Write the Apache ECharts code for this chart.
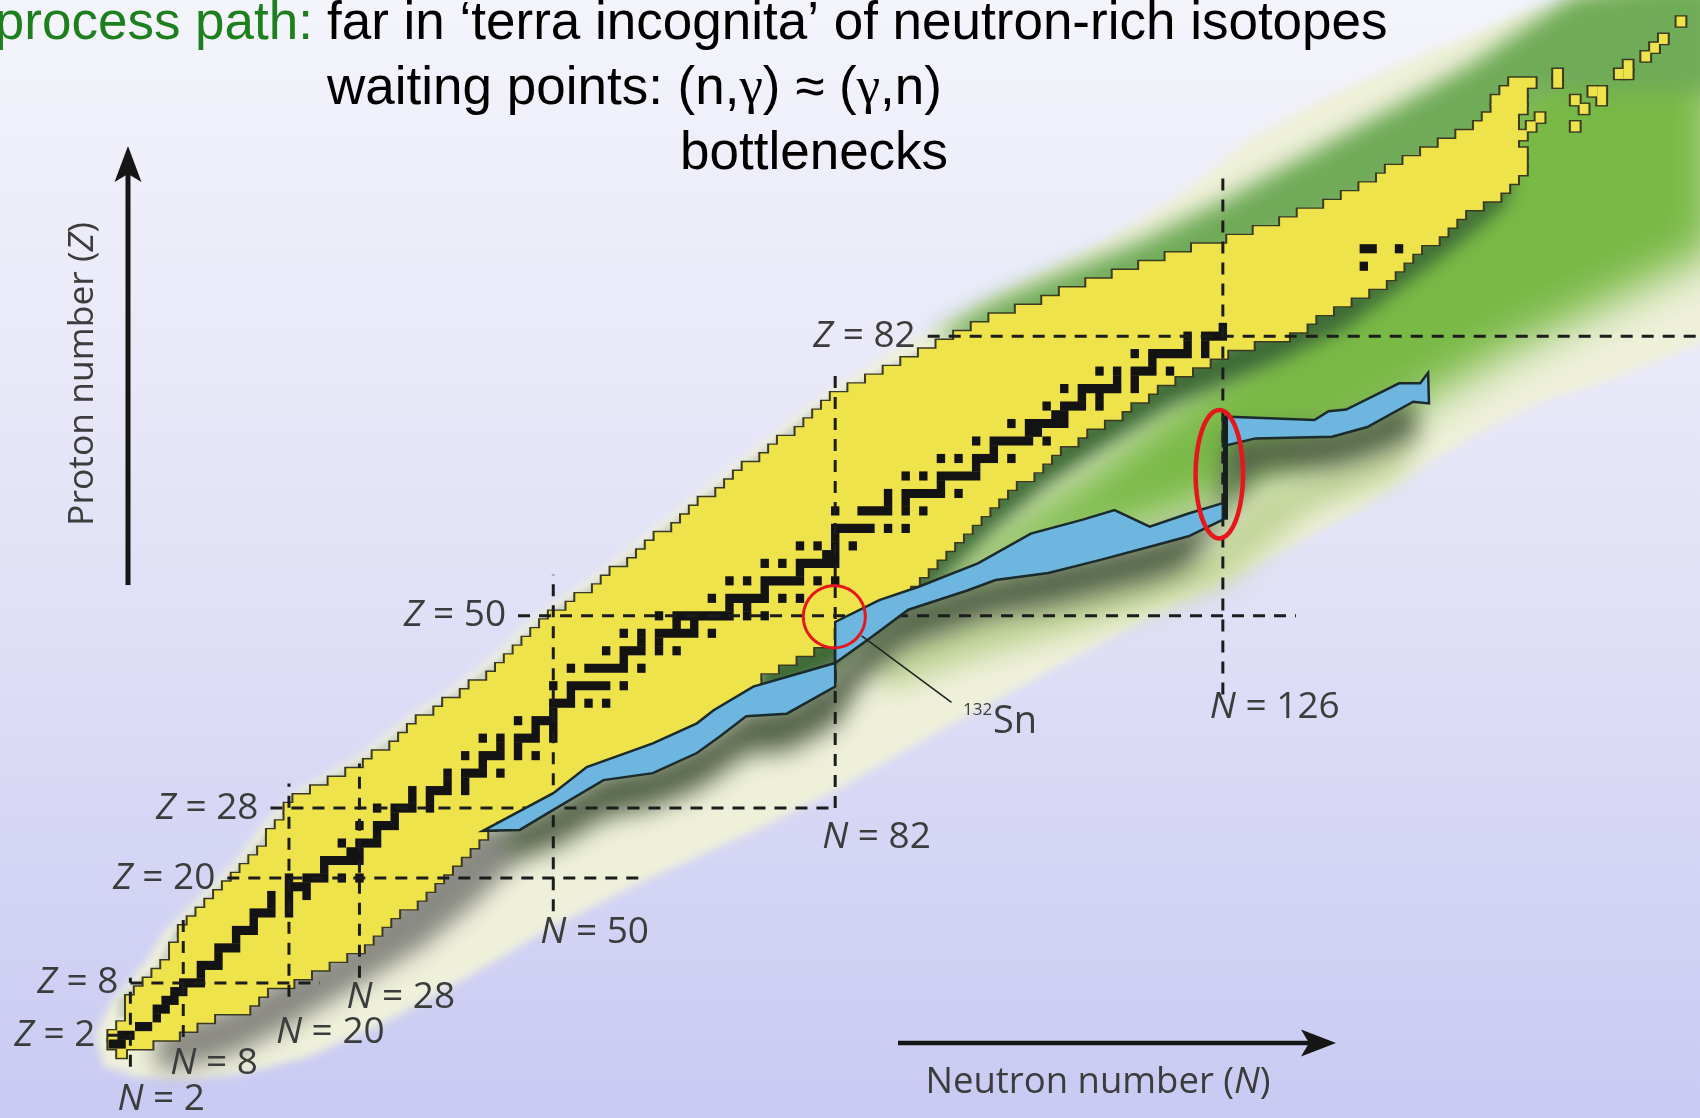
<!DOCTYPE html>
<html>
<head>
<meta charset="utf-8">
<title>r-process path on the chart of nuclides</title>
<script src="https://cdn.jsdelivr.net/npm/echarts@6/dist/echarts.min.js"></script>
<style>
html, body { margin: 0; padding: 0; background: #e6e6f8; }
#chart { width: 1700px; height: 1118px; }
</style>
</head>
<body>
<div id="chart"></div>
<script>
// ---------------------------------------------------------------------------
// Chart of nuclides data (N = neutron number on x, Z = proton number on y)
// ---------------------------------------------------------------------------

// element rows, index = proton number Z
const protonZ = Array.from({ length: 112 }, (_, z) => z);

// lightest known isotope of each element (neutron number)
const knownNmin = [
  1, 0, 0, 1, 2, 2, 2, 3, 4, 5,
  6, 7, 7, 8, 8, 9, 10, 11, 12, 13,
  14, 15, 16, 17, 18, 18, 19, 20, 20, 21,
  23, 25, 27, 29, 30, 32, 33, 34, 35, 37,
  38, 40, 41, 43, 44, 45, 46, 47, 48, 49,
  50, 52, 53, 55, 56, 57, 59, 60, 61, 62,
  64, 65, 66, 67, 69, 70, 71, 72, 74, 75,
  76, 78, 79, 80, 81, 82, 84, 86, 88, 90,
  92, 94, 96, 98, 100, 103, 106, 108, 111, 114,
  117, 120, 123, 127, 130, 133, 135, 138, 140, 142,
  144, 145, 147, 149, 151, 153, 155, 156, 157, 157,
  158, 159
];

// heaviest known isotope of each element (neutron number)
const knownNmax = [
  1, 4, 7, 9, 11, 15, 16, 17, 20, 22,
  24, 26, 28, 29, 30, 31, 32, 34, 35, 36,
  37, 38, 39, 40, 41, 42, 43, 45, 47, 49,
  51, 53, 54, 56, 58, 61, 64, 66, 68, 69,
  70, 72, 73, 73, 75, 77, 79, 82, 83, 84,
  85, 87, 89, 90, 91, 92, 93, 94, 95, 96,
  97, 98, 99, 100, 101, 102, 104, 105, 106, 107,
  109, 110, 112, 114, 115, 117, 118, 120, 122, 124,
  126, 129, 133, 135, 136, 138, 140, 142, 144, 145,
  146, 147, 148, 150, 151, 152, 153, 155, 157, 158,
  159, 160, 160, 160, 159, 159, 159, 159, 160, 160,
  160, 161
];

// isolated known superheavy nuclei [N, Z]
const superheavyCells = [
  [160, 105], [161, 106], [162, 107], [164, 111], [164, 112], [166, 106],
  [166, 109], [167, 108], [168, 110], [169, 110], [169, 109], [171, 112],
  [172, 112], [172, 113], [174, 114], [175, 115], [176, 116], [178, 118]
];

// stable (and very long-lived) isotopes: [Z, [N, ...]]
const stableIsotopes = [
  [1, [0, 1]], [2, [1, 2]], [3, [3, 4]], [4, [5]], [5, [5, 6]], [6, [6, 7]],
  [7, [7, 8]], [8, [8, 9, 10]], [9, [10]], [10, [10, 11, 12]], [11, [12]],
  [12, [12, 13, 14]], [13, [14]], [14, [14, 15, 16]], [15, [16]],
  [16, [16, 17, 18, 20]], [17, [18, 20]], [18, [18, 20, 22]], [19, [20, 21, 22]],
  [20, [20, 22, 23, 24, 26, 28]], [21, [24]], [22, [24, 25, 26, 27, 28]],
  [23, [27, 28]], [24, [26, 28, 29, 30]], [25, [30]], [26, [28, 30, 31, 32]],
  [27, [32]], [28, [30, 32, 33, 34, 36]], [29, [34, 36]], [30, [34, 36, 37, 38, 40]],
  [31, [38, 40]], [32, [38, 40, 41, 42, 44]], [33, [42]], [34, [40, 42, 43, 44, 46, 48]],
  [35, [44, 46]], [36, [42, 44, 46, 47, 48, 50]], [37, [48, 50]], [38, [46, 48, 49, 50]],
  [39, [50]], [40, [50, 51, 52, 54, 56]], [41, [52]], [42, [50, 52, 53, 54, 55, 56, 58]],
  [44, [52, 54, 55, 56, 57, 58, 60]], [45, [58]], [46, [56, 58, 59, 60, 62, 64]],
  [47, [60, 62]], [48, [58, 60, 62, 63, 64, 65, 66, 68]], [49, [64, 66]],
  [50, [62, 64, 65, 66, 67, 68, 69, 70, 72, 74]], [51, [70, 72]],
  [52, [68, 70, 71, 72, 73, 74, 76, 78]], [53, [74]], [54, [70, 72, 74, 75, 76, 77, 78, 80, 82]],
  [55, [78]], [56, [74, 76, 78, 79, 80, 81, 82]], [57, [81, 82]], [58, [78, 80, 82, 84]],
  [59, [82]], [60, [82, 83, 84, 85, 86, 88, 90]], [62, [82, 85, 86, 87, 88, 90, 92]],
  [63, [88, 90]], [64, [88, 90, 91, 92, 93, 94, 96]], [65, [94]],
  [66, [90, 92, 94, 95, 96, 97, 98]], [67, [98]], [68, [94, 96, 98, 99, 100, 102]],
  [69, [100]], [70, [98, 100, 101, 102, 103, 104, 106]], [71, [104, 105]],
  [72, [102, 104, 105, 106, 107, 108]], [73, [107, 108]], [74, [106, 108, 109, 110, 112]],
  [75, [110, 112]], [76, [108, 110, 111, 112, 113, 114, 116]], [77, [114, 116]],
  [78, [112, 114, 116, 117, 118, 120]], [79, [118]], [80, [116, 118, 119, 120, 121, 122, 124]],
  [81, [122, 124]], [82, [122, 124, 125, 126]], [83, [126]], [90, [142]], [92, [142, 143, 146]]
];

// r-process path outline, three stretches between the closed shells [N, Z]
const rPathLow = [
  [42, 25.4], [50, 29.7], [53.8, 32.7], [61.3, 35.4], [66.3, 37.7], [68.2, 39.2],
  [72.7, 41.9], [82, 44.6], [82, 41.9], [76.5, 38.8], [71.9, 38.5], [68.9, 36.2],
  [66.3, 34.3], [61.3, 32.0], [55.7, 31.2], [50, 27.8], [46.2, 25.5]
];
const rPathMid = [
  [82, 44.6], [82, 49.3], [87, 51.8], [91.4, 53.3], [98.2, 56], [104.2, 59.4],
  [110.1, 61], [113.7, 62.1], [117.7, 60.2], [122.1, 61.7], [126, 62.9], [126, 61],
  [122.1, 59.1], [117.7, 57.9], [112.1, 56.4], [106.2, 54.9], [100.2, 54.1],
  [97, 52.9], [90.3, 50.7], [85.9, 47.4]
];
const rPathHigh = [
  [126, 72.8], [136.4, 72.4], [138, 73.4], [140, 73.6], [146, 76.6], [148.4, 76.6],
  [149.3, 77.8], [149.4, 74.3], [147.6, 74.5], [142.4, 71.6], [138.4, 70.5],
  [129.7, 70.3], [126, 69.4]
];
const rPathLink = [[126.3, 61], [126.3, 72.8]];

// closed shells: [Z, N from, N to] and [N, Z from, Z to]
const magicZLines = [[2, -0.6, 2], [8, 2, 23.5], [20, 13, 60], [28, 17.9, 82], [50, 46, 134.3], [82, 92.5, 181]];
const magicNLines = [[2, -1.6, 8.6], [8, 1.8, 15.5], [20, 6.4, 30.8], [28, 8.6, 33.1], [50, 16.2, 54.7], [82, 28, 77.6], [126, 41, 100.6]];

// unexplored region beyond the known nuclei, and its shading [N, Z]
const hazeEnvelope = [
  [-2, 2], [0, 6], [3.5, 10], [6, 14], [10, 18], [14, 22], [17, 26], [21, 30], [28, 34],
  [33, 38], [39, 42], [44, 46], [48, 50], [54, 54], [59, 58], [64, 62], [69, 66],
  [74, 70], [79, 74], [85, 78], [89, 80.5], [100, 86.5], [112, 92.5], [121, 98],
  [129, 104.5], [138, 109.5], [147, 113.5], [159, 118.5], [168, 121], [182, 122.5], [182, 82],
  [170, 77], [162, 74.5], [156, 71.5], [150, 68], [142, 62.5], [130, 56], [118, 50],
  [106, 43.5], [95, 37.5], [82, 30], [73, 25.5], [62, 20.5], [50, 14.5], [40, 8.5],
  [30, 3], [22, -0.5], [14, -2.5], [8, -3], [3, -2.8], [-1, -1.5]
];
const hazeGreenBody = [
  [84, 49], [96, 57], [110, 66], [125, 78], [140, 92], [152, 104], [162, 114],
  [172, 120.5], [182, 122], [182, 92], [170, 86], [158, 80], [146, 73], [134, 67],
  [122, 62], [110, 58], [98, 54], [88, 50]
];
const hazeGreenBelow = [
  [86, 45.5], [97, 50.5], [112, 54], [124, 57.5], [130, 64], [140, 68], [148, 71],
  [146, 66], [136, 62], [126, 53.5], [112, 49], [98, 45], [88, 41.5]
];
const hazeFringe = [
  [0.5, 4], [0.5, 6], [5, 10], [7, 14], [11, 18], [15, 22], [18, 26],
  [22, 30], [29, 34], [34, 38], [40, 42], [45, 46], [49, 50], [55, 54],
  [60, 58], [65, 62], [70, 66], [75, 70], [80, 74], [87, 78], [91, 80],
  [96, 80], [90, 78], [83, 74], [77, 70], [72, 66], [67, 62], [63, 58], [58, 54],
  [52, 50], [48, 46], [43, 42], [37, 38], [32, 34], [25, 30], [21, 26], [18, 22],
  [14, 18], [10, 14], [8, 10], [4, 6], [3, 4]
];
const hazeGreenTop = [
  [93, 82], [100, 86], [107, 89], [116, 92.5], [126, 97.5], [136, 103],
  [146, 108.5], [154, 113], [160, 117], [166, 121], [182, 122.5],
  [182, 110], [162, 110], [155, 104], [140, 96], [125, 90], [110, 85.5], [100, 81]
];
const shadeBelowLight = [
  [5, 2], [9, 4], [13, 5], [18, 8], [22, 10], [26, 12], [30, 16], [35, 20], [39, 24],
  [42, 26], [47, 25], [45, 21], [41, 17], [35, 12], [30, 9], [25, 6], [19, 2.5],
  [14, 0], [9, -1.5], [5, -2]
];
const shadeBelowKnown = [
  [73, 44.5], [79, 47.5], [85, 51], [90, 54.5], [94, 58.5], [100, 64.5], [106, 69.5],
  [112, 73.5], [120, 78.5], [126, 81], [134, 84], [138, 86.5], [142, 88], [145, 90.5],
  [149, 93.5], [153, 96.5], [156, 99], [159, 101.5], [158, 97], [155, 94.5], [152, 92],
  [148, 89], [144, 86], [140, 83], [136, 81], [132, 79], [126, 76.5], [120, 74],
  [112, 69], [106, 65], [100, 60], [94, 54], [90, 50], [85, 46.5], [82, 43.5], [73, 40]
];
const shadeBelowPath = [
  [44, 25.5], [50, 28.5], [55.7, 32], [61.3, 33], [66.3, 35.3], [69, 37], [72, 39.3],
  [76.5, 39.8], [81.5, 43], [86, 48.3], [90.3, 51.6], [97, 53.8], [106, 56], [112, 57.3],
  [118, 58.8], [125.5, 61.5], [126.5, 70.3], [138, 71.5], [142, 72.5], [147.5, 75.2],
  [148, 70.5], [142, 68], [138, 67], [130, 66.5], [127, 63], [122, 55.5], [118, 54],
  [112, 52.5], [106, 51], [100, 50], [97, 49], [90, 46.5], [85, 42.5], [82, 37.5],
  [76.5, 34.5], [72, 34.3], [69, 32], [66, 30], [61, 28], [56, 27], [50, 23.5], [45, 22]
];

// highlighted bottlenecks and the 132Sn call-out
const sn132Circle = { center: [81.9, 49.9], radius: [3.52, 3.55] };
const n126Ellipse = { center: [125.6, 66.2], radius: [2.69, 7.35] };
const sn132Leader = [[85.0, 47.7], [95.2, 40.1]];
const sn132LabelAt = [96.5, 37.85];

// ---------------------------------------------------------------------------
// drawing
// ---------------------------------------------------------------------------
const LABEL_FONT = '"Open Sans", "Noto Sans", sans-serif';
const LABEL_COLOR = '#3c3c3c';
const TITLE_FONT = '53px "Liberation Sans", Arial, sans-serif';
const OFF = 4000; // shapes are drawn off-canvas; only their blurred shadow lands in view

const hazeLayers = [
  { pts: hazeEnvelope, color: '#eff0da', blur: 8 },
  { pts: hazeGreenBody, color: '#79b946', blur: 45 },
  { pts: hazeGreenBelow, color: '#c3d69a', blur: 26 },
  { pts: hazeFringe, color: '#ced2c8', blur: 5 },
  { pts: hazeGreenTop, color: '#70ab58', blur: 22 },
  { pts: shadeBelowLight, color: '#8a8a84', blur: 22 },
  { pts: shadeBelowKnown, color: '#3e6b36', blur: 18 },
  { pts: shadeBelowPath, color: '#56654a', blur: 24 }
];
const rPathParts = [rPathLow, rPathMid, rPathHigh];

const knownRows = protonZ.map((z, i) => [knownNmin[i], knownNmax[i], z])
  .concat(superheavyCells.map(c => [c[0], c[0], c[1]]));

const stableRuns = [];
stableIsotopes.forEach(([z, ns]) => {
  let start = ns[0], prev = ns[0];
  for (let k = 1; k <= ns.length; k++) {
    const n = ns[k];
    if (n === prev + 1) { prev = n; continue; }
    stableRuns.push([start, prev, z]);
    start = n; prev = n;
  }
});

// rectangle of a run of cells; dx/dy shrink (positive) or grow (negative) it in px
function cellRect(api, n0, n1, z, dx, dy) {
  const a = api.coord([n0 - 0.5, z + 0.5]);
  const b = api.coord([n1 + 0.5, z - 0.5]);
  return { x: a[0] + dx, y: a[1] + dy, width: b[0] - a[0] - 2 * dx, height: b[1] - a[1] - 2 * dy };
}

function rich(size) {
  return {
    i: { font: 'italic ' + size + 'px ' + LABEL_FONT, fill: LABEL_COLOR },
    r: { font: size + 'px ' + LABEL_FONT, fill: LABEL_COLOR }
  };
}

function ellipsePoints(api, e) {
  const pts = [];
  for (let k = 0; k < 96; k++) {
    const t = k / 96 * Math.PI * 2;
    pts.push(api.coord([e.center[0] + e.radius[0] * Math.cos(t), e.center[1] + e.radius[1] * Math.sin(t)]));
  }
  return pts;
}

function textStyle(extra) {
  return Object.assign({ align: 'left', verticalAlign: 'middle', textAlign: 'left', textVerticalAlign: 'middle' }, extra);
}

const nLabelDy = { 2: 33, 8: 26, 20: 36, 28: 20, 50: 21, 82: 29, 126: 13 };

const chart = echarts.init(document.getElementById('chart'), null, { renderer: 'canvas' });

const option = {
  animation: false,
  backgroundColor: new echarts.graphic.LinearGradient(0, 0, 0, 1, [
    { offset: 0, color: '#f4f4fb' },
    { offset: 0.5, color: '#e2e2f7' },
    { offset: 1, color: '#c9caf2' }
  ]),
  grid: { left: 0, right: 0, top: 0, bottom: 0 },
  xAxis: { type: 'value', min: -12.8, max: 180.16, show: false, splitLine: { show: false } },
  yAxis: { type: 'value', min: -7.46, max: 120.46, show: false, splitLine: { show: false } },
  series: [
    {
      // unexplored neutron-rich territory
      type: 'custom', z: 1, silent: true, clip: false,
      data: hazeLayers.map((l, i) => [l.pts[0][0], l.pts[0][1], i]),
      encode: { x: 0, y: 1 },
      renderItem: (params, api) => {
        const l = hazeLayers[params.dataIndex];
        const pts = l.pts.map(p => { const c = api.coord(p); return [c[0] - OFF, c[1]]; });
        return {
          type: 'polygon', shape: { points: pts },
          style: { fill: l.color, shadowColor: l.color, shadowBlur: l.blur, shadowOffsetX: OFF, shadowOffsetY: 0 }
        };
      }
    },
    {
      // outline of the known nuclei
      type: 'custom', z: 2, silent: true, clip: false,
      data: knownRows, encode: { x: [0, 1], y: 2 },
      renderItem: (params, api) => ({
        type: 'rect', shape: cellRect(api, api.value(0), api.value(1), api.value(2), 0, 0),
        style: { fill: '#3a3a22', stroke: '#3a3a22', lineWidth: 4 }
      })
    },
    {
      // known nuclei
      type: 'custom', z: 3, silent: true, clip: false,
      data: knownRows, encode: { x: [0, 1], y: 2 },
      renderItem: (params, api) => ({
        type: 'rect', shape: cellRect(api, api.value(0), api.value(1), api.value(2), 0, -0.6),
        style: { fill: '#efe34b' }
      })
    },
    {
      // stable nuclei
      type: 'custom', z: 4, silent: true, clip: false,
      data: stableRuns, encode: { x: [0, 1], y: 2 },
      renderItem: (params, api) => ({
        type: 'rect', shape: cellRect(api, api.value(0), api.value(1), api.value(2), 0.2, -0.2),
        style: { fill: '#131313' }
      })
    },
    {
      // proton shell closures
      type: 'custom', z: 5, silent: true, clip: false,
      data: magicZLines.map(d => [d[1], d[2], d[0]]), encode: { x: [0, 1], y: 2 },
      renderItem: (params, api) => {
        const z = api.value(2);
        const a = api.coord([api.value(0), z]), b = api.coord([api.value(1), z]);
        return {
          type: 'group', children: [
            { type: 'line', shape: { x1: a[0], y1: a[1], x2: b[0], y2: b[1] },
              style: { stroke: '#1c1c1c', lineWidth: 3, lineDash: [12, 9] } },
            { type: 'text', x: a[0] - 12, y: a[1],
              style: textStyle({ text: '{i|Z}{r| = ' + z + '}', rich: rich(37), align: 'right', textAlign: 'right' }) }
          ]
        };
      }
    },
    {
      // neutron shell closures
      type: 'custom', z: 5, silent: true, clip: false,
      data: magicNLines, encode: { x: 0, y: [1, 2] },
      renderItem: (params, api) => {
        const n = api.value(0);
        const a = api.coord([n, api.value(1)]), b = api.coord([n, api.value(2)]);
        return {
          type: 'group', children: [
            { type: 'line', shape: { x1: a[0], y1: a[1], x2: b[0], y2: b[1] },
              style: { stroke: '#1c1c1c', lineWidth: 3, lineDash: [12, 9] } },
            { type: 'text', x: a[0] - 13, y: a[1] + nLabelDy[n],
              style: textStyle({ text: '{i|N}{r| = ' + n + '}', rich: rich(37) }) }
          ]
        };
      }
    },
    {
      // r-process path
      type: 'custom', z: 6, silent: true, clip: false,
      data: rPathParts.map((p, i) => [p[0][0], p[0][1], i]), encode: { x: 0, y: 1 },
      renderItem: (params, api) => ({
        type: 'polygon', shape: { points: rPathParts[params.dataIndex].map(p => api.coord(p)) },
        style: { fill: '#6db6e0', stroke: '#1b2a2b', lineWidth: 2.5, lineJoin: 'miter' }
      })
    },
    {
      // N = 126 step of the path
      type: 'custom', z: 6, silent: true, clip: false,
      data: [[rPathLink[0][0], rPathLink[0][1], rPathLink[1][1]]], encode: { x: 0, y: [1, 2] },
      renderItem: (params, api) => {
        const a = api.coord([api.value(0), api.value(1)]), b = api.coord([api.value(0), api.value(2)]);
        return { type: 'line', shape: { x1: a[0], y1: a[1], x2: b[0], y2: b[1] },
                 style: { stroke: '#16201f', lineWidth: 5 } };
      }
    },
    {
      // waiting-point highlights and the 132Sn call-out
      type: 'custom', z: 7, silent: true, clip: false,
      data: [[sn132Circle.center[0], sn132Circle.center[1], 0], [n126Ellipse.center[0], n126Ellipse.center[1], 1],
             [sn132Leader[0][0], sn132Leader[0][1], 2], [sn132LabelAt[0], sn132LabelAt[1], 3]],
      encode: { x: 0, y: 1 },
      renderItem: (params, api) => {
        const i = params.dataIndex;
        if (i === 0) {
          return { type: 'polygon', shape: { points: ellipsePoints(api, sn132Circle) },
                   style: { fill: 'none', stroke: '#e5161c', lineWidth: 3 } };
        }
        if (i === 1) {
          return { type: 'polygon', shape: { points: ellipsePoints(api, n126Ellipse) },
                   style: { fill: 'none', stroke: '#e5161c', lineWidth: 4.5 } };
        }
        if (i === 2) {
          const a = api.coord(sn132Leader[0]), b = api.coord(sn132Leader[1]);
          return { type: 'line', shape: { x1: a[0], y1: a[1], x2: b[0], y2: b[1] },
                   style: { stroke: '#222', lineWidth: 1.6 } };
        }
        const p = api.coord(sn132LabelAt);
        return {
          type: 'group', children: [
            { type: 'text', x: p[0], y: p[1] - 12,
              style: textStyle({ text: '132', font: '17px ' + LABEL_FONT, fill: LABEL_COLOR }) },
            { type: 'text', x: p[0] + 30, y: p[1],
              style: textStyle({ text: 'Sn', font: '38px ' + LABEL_FONT, fill: LABEL_COLOR }) }
          ]
        };
      }
    }
  ],
  graphic: [
    // axis arrows
    { type: 'line', z: 100, shape: { x1: 128, y1: 585, x2: 128, y2: 172 }, style: { stroke: '#161616', lineWidth: 5 } },
    { type: 'polygon', z: 100, shape: { points: [[128, 146], [114.5, 182], [128, 174], [141.5, 182]] }, style: { fill: '#161616' } },
    { type: 'line', z: 100, shape: { x1: 898, y1: 1043, x2: 1314, y2: 1043 }, style: { stroke: '#161616', lineWidth: 4.5 } },
    { type: 'polygon', z: 100, shape: { points: [[1336, 1043], [1301, 1029.5], [1309, 1043], [1301, 1056.5]] }, style: { fill: '#161616' } },
    { type: 'text', z: 100, x: 83, y: 374, rotation: Math.PI / 2,
      style: textStyle({ text: '{r|Proton number (}{i|Z}{r|)}', rich: rich(35.5), align: 'center', textAlign: 'center' }) },
    { type: 'text', z: 100, x: 1098, y: 1083,
      style: textStyle({ text: '{r|Neutron number (}{i|N}{r|)}', rich: rich(36.5), align: 'center', textAlign: 'center' }) },
    // headline
    { type: 'text', z: 100, x: 313, y: 24,
      style: textStyle({ text: 'r-process path:', font: TITLE_FONT, fill: '#1e7f1e', align: 'right', textAlign: 'right' }) },
    { type: 'text', z: 100, x: 327, y: 24,
      style: textStyle({ text: 'far in \u2018terra incognita\u2019 of neutron-rich isotopes', font: TITLE_FONT, fill: '#000' }) },
    { type: 'text', z: 100, x: 327, y: 89,
      style: textStyle({
        text: '{a|waiting points: (n,}{g|\u03b3}{a|) \u2248 (}{g|\u03b3}{a|,n)}',
        rich: {
          a: { font: TITLE_FONT, fill: '#000' },
          g: { font: '53px "Liberation Serif", "Times New Roman", serif', fill: '#000' }
        }
      }) },
    { type: 'text', z: 100, x: 680, y: 154,
      style: textStyle({ text: 'bottlenecks', font: TITLE_FONT, fill: '#000' }) }
  ]
};

chart.setOption(option);
</script>
</body>
</html>
